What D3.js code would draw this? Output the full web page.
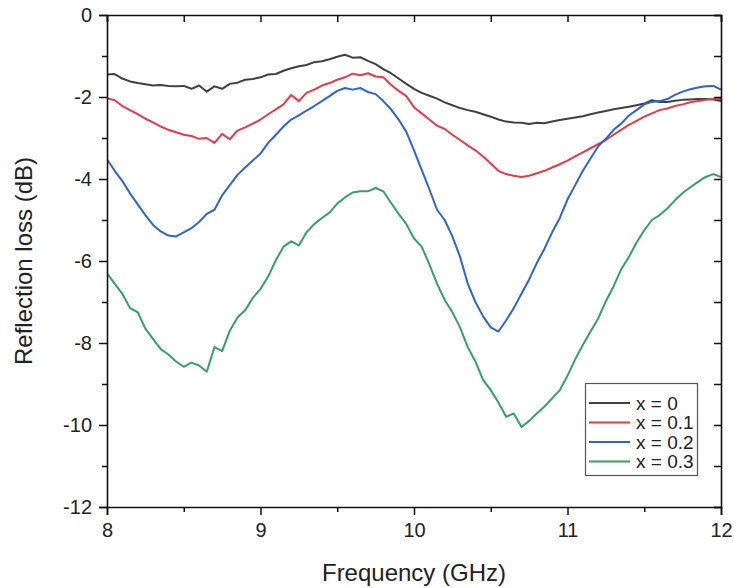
<!DOCTYPE html>
<html><head><meta charset="utf-8">
<script src="https://cdn.jsdelivr.net/npm/d3@7"></script>
<style>body{margin:0;background:#fff}</style>
</head><body>
<svg id="c" width="734" height="588"></svg>
<script>
// Frequency sampling (GHz)
const freq = d3.range(81).map(i => +(8 + i * 0.05).toFixed(2));
const seriesNames = ["x = 0", "x = 0.1", "x = 0.2", "x = 0.3"];
const seriesColors = ["#404040", "#e63b46", "#2d63d3", "#35a063"];

const rl_x00 = [-1.45,-1.44,-1.55,-1.62,-1.66,-1.69,-1.72,-1.71,-1.73,-1.74,
  -1.73,-1.80,-1.72,-1.87,-1.74,-1.80,-1.68,-1.65,-1.58,-1.56,
  -1.52,-1.45,-1.44,-1.36,-1.30,-1.25,-1.22,-1.15,-1.13,-1.08,
  -1.02,-0.97,-1.04,-1.03,-1.12,-1.20,-1.32,-1.42,-1.55,-1.68,
  -1.80,-1.90,-1.97,-2.04,-2.13,-2.20,-2.27,-2.32,-2.36,-2.42,
  -2.48,-2.55,-2.60,-2.62,-2.63,-2.66,-2.63,-2.64,-2.60,-2.56,
  -2.53,-2.50,-2.47,-2.42,-2.38,-2.34,-2.30,-2.27,-2.24,-2.20,
  -2.16,-2.08,-2.12,-2.12,-2.09,-2.07,-2.06,-2.05,-2.05,-2.06,
  -2.10];
const rl_x01 = [-2.03,-2.08,-2.22,-2.32,-2.42,-2.53,-2.62,-2.72,-2.80,-2.86,
  -2.92,-2.95,-3.02,-3.00,-3.12,-2.90,-3.03,-2.82,-2.74,-2.65,
  -2.55,-2.42,-2.30,-2.18,-1.95,-2.10,-1.90,-1.82,-1.72,-1.66,
  -1.58,-1.52,-1.43,-1.47,-1.42,-1.50,-1.52,-1.70,-1.85,-1.98,
  -2.25,-2.40,-2.55,-2.70,-2.78,-2.92,-3.05,-3.18,-3.30,-3.45,
  -3.62,-3.80,-3.88,-3.92,-3.95,-3.92,-3.86,-3.80,-3.72,-3.64,
  -3.55,-3.45,-3.35,-3.25,-3.15,-3.05,-2.92,-2.80,-2.68,-2.58,
  -2.48,-2.40,-2.32,-2.28,-2.22,-2.18,-2.13,-2.10,-2.07,-2.05,
  -2.05];
const rl_x02 = [-3.52,-3.80,-4.05,-4.35,-4.62,-4.88,-5.12,-5.28,-5.38,-5.40,
  -5.30,-5.20,-5.05,-4.85,-4.75,-4.40,-4.15,-3.90,-3.72,-3.55,
  -3.38,-3.12,-2.92,-2.72,-2.55,-2.45,-2.33,-2.22,-2.10,-1.98,
  -1.85,-1.78,-1.82,-1.78,-1.88,-1.93,-2.10,-2.30,-2.55,-2.85,
  -3.30,-3.78,-4.25,-4.75,-5.00,-5.40,-5.90,-6.55,-7.00,-7.35,
  -7.62,-7.72,-7.45,-7.15,-6.80,-6.45,-6.05,-5.70,-5.30,-4.95,
  -4.50,-4.15,-3.80,-3.50,-3.20,-3.02,-2.80,-2.65,-2.45,-2.32,
  -2.18,-2.12,-2.10,-2.05,-1.95,-1.87,-1.81,-1.77,-1.74,-1.73,
  -1.82];
const rl_x03 = [-6.30,-6.55,-6.80,-7.15,-7.25,-7.65,-7.90,-8.15,-8.28,-8.45,
  -8.58,-8.48,-8.55,-8.70,-8.10,-8.20,-7.70,-7.38,-7.20,-6.90,
  -6.68,-6.38,-5.98,-5.65,-5.52,-5.62,-5.30,-5.10,-4.95,-4.82,
  -4.60,-4.45,-4.33,-4.30,-4.30,-4.22,-4.30,-4.58,-4.85,-5.10,
  -5.45,-5.65,-6.08,-6.55,-6.95,-7.25,-7.62,-8.10,-8.45,-8.90,
  -9.15,-9.45,-9.80,-9.72,-10.05,-9.90,-9.72,-9.55,-9.35,-9.15,
  -8.80,-8.40,-8.05,-7.72,-7.40,-6.98,-6.62,-6.20,-5.90,-5.55,
  -5.25,-5.00,-4.88,-4.72,-4.52,-4.34,-4.20,-4.07,-3.95,-3.88,
  -3.95];
const seriesValues = [rl_x00, rl_x01, rl_x02, rl_x03];

const xMajor = [8, 9, 10, 11, 12];
const xMinor = [8.5, 9.5, 10.5, 11.5];
const yMajor = [0, -2, -4, -6, -8, -10, -12];
const yMinor = [-1, -3, -5, -7, -9, -11];

const L = 107, R = 721, T = 15, B = 507;
const FONT = "'Liberation Sans', Arial, sans-serif";
const svg = d3.select("#c");
const x = d3.scaleLinear().domain([8, 12]).range([L, R]);
const y = d3.scaleLinear().domain([-12, 0]).range([B, T]);
const fmt = d => String(d);  // plain hyphen-minus, as in the reference

function style(g) {
  g.selectAll("path.domain").attr("stroke", "#111").attr("stroke-width", 1.6);
  g.selectAll(".tick line").attr("stroke", "#111").attr("stroke-width", 1.5);
  g.selectAll(".tick text").attr("fill", "#222").style("font-family", FONT).style("font-size", "20px");
}

// curves (under axes)
svg.append("clipPath").attr("id", "pc").append("rect")
  .attr("x", L).attr("y", T).attr("width", R - L).attr("height", B - T);
const line = d3.line().x((d, i) => x(freq[i])).y(d => y(d));
svg.append("g").attr("clip-path", "url(#pc)")
  .selectAll("path").data(seriesValues).join("path")
  .attr("d", d => line(d)).attr("fill", "none")
  .attr("stroke", (d, i) => seriesColors[i]).attr("stroke-width", 2)
  .attr("stroke-linejoin", "round");

// bottom axis
const gb = svg.append("g").attr("transform", `translate(0,${B})`)
  .call(d3.axisBottom(x).tickValues(xMajor).tickSize(8).tickPadding(8).tickFormat(fmt));
style(gb);
const gbm = svg.append("g").attr("transform", `translate(0,${B})`)
  .call(d3.axisBottom(x).tickValues(xMinor).tickSize(5).tickFormat(""));
style(gbm); gbm.select("path.domain").remove();

// left axis
const gl = svg.append("g").attr("transform", `translate(${L},0)`)
  .call(d3.axisLeft(y).tickValues(yMajor).tickSize(8).tickPadding(7).tickFormat(fmt));
style(gl);
const glm = svg.append("g").attr("transform", `translate(${L},0)`)
  .call(d3.axisLeft(y).tickValues(yMinor).tickSize(5).tickFormat(""));
style(glm); glm.select("path.domain").remove();

// top axis (inward ticks)
const gt = svg.append("g").attr("transform", `translate(0,${T})`)
  .call(d3.axisTop(x).tickValues(xMajor.concat(xMinor)).tickSize(-7).tickFormat(""));
style(gt);
// right axis (inward ticks)
const gr = svg.append("g").attr("transform", `translate(${R},0)`)
  .call(d3.axisRight(y).tickValues(yMajor.concat(yMinor)).tickSize(-7).tickFormat(""));
style(gr);

// axis titles
svg.append("text").attr("x", (L + R) / 2).attr("y", 581).attr("text-anchor", "middle")
  .style("font-family", FONT).style("font-size", "24px").attr("fill", "#222")
  .text("Frequency (GHz)");
svg.append("text").attr("transform", `translate(32,${(T + B) / 2}) rotate(-90)`)
  .attr("text-anchor", "middle")
  .style("font-family", FONT).style("font-size", "24px").attr("fill", "#222")
  .text("Reflection loss (dB)");

// legend
const lg = svg.append("g");
lg.append("rect").attr("x", 585.5).attr("y", 383.5).attr("width", 112).attr("height", 92)
  .attr("fill", "#fff").attr("stroke", "#555").attr("stroke-width", 1.2);
const rows = lg.selectAll("g.row").data(seriesNames).join("g").attr("class", "row")
  .attr("transform", (d, i) => `translate(0,${403 + i * 19.5})`);
rows.append("line").attr("x1", 589).attr("x2", 630).attr("y1", 0).attr("y2", 0)
  .attr("stroke", (d, i) => seriesColors[i]).attr("stroke-width", 2);
rows.append("text").attr("x", 636).attr("y", 0).attr("dy", "0.35em")
  .style("font-family", FONT).style("font-size", "19px").attr("fill", "#222")
  .text(d => d);
</script>
</body></html>
